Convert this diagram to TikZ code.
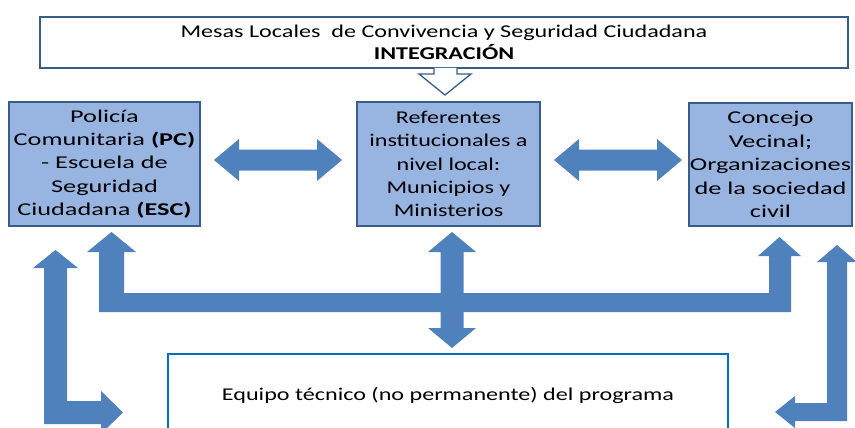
\documentclass[tikz,border=0pt]{standalone}
\usepackage{fontspec}
\setmainfont{Carlito}[FakeStretch=1.34]
\newfontfamily\mywidefont{Carlito}[FakeStretch=1.46]
\definecolor{boxfill}{RGB}{152,180,224}
\definecolor{bdr}{RGB}{56,93,138}
\definecolor{arr}{RGB}{79,129,189}
\definecolor{botbdr}{RGB}{0,112,192}
\newcommand\mydiagfont{\fontsize{18}{23.2}\selectfont}
\newcommand\mywidediagfont{\mywidefont\fontsize{18}{23.4}\selectfont}
\begin{document}
\begin{tikzpicture}[x=1pt,y=-1pt,
  blk/.style={draw=bdr, line width=2pt, fill=boxfill, inner sep=0pt, align=center, font=\mydiagfont},
  wideblk/.style={blk, font=\mywidediagfont},
  barrow/.style={fill=arr, draw=none},
]
\useasboundingbox (0,0) rectangle (855,428);
\clip (0,0) rectangle (855,428);

% top box
\node[draw=bdr, line width=2pt, fill=white, minimum width=808pt, minimum height=51pt,
      inner sep=0pt, align=center, font=\mydiagfont] (top) at (444,42.5)
  {Mesas Locales\ \ de Convivencia y Seguridad Ciudadana\\[-1pt]\textbf{INTEGRACIÓN}};
% hollow down arrow
\draw[draw=bdr, line width=1.3pt, fill=white, line join=miter]
  (434,68) -- (434,74) -- (419,74) -- (445,95) -- (471,74) -- (457,74) -- (457,68);

% three boxes
\node[wideblk, minimum width=191pt, minimum height=124pt] (pc) at (104.5,164)
  {Policía\\Comunitaria \textbf{(PC)}\\- Escuela de\\Seguridad\\Ciudadana \textbf{(ESC)}};
\node[blk, minimum width=183pt, minimum height=124pt] (ref) at (448.5,164)
  {Referentes\\institucionales a\\nivel local:\\Municipios y\\Ministerios};
\node[wideblk, minimum width=163pt, minimum height=123pt] (cv) at (770.5,164.5)
  {Concejo\\Vecinal;\\Organizaciones\\de la sociedad\\civil};

% horizontal double arrows
\fill[barrow] (214,160) -- (239,139) -- (239,149.5) -- (317,149.5) -- (317,139) -- (342,160)
  -- (317,181) -- (317,170.5) -- (239,170.5) -- (239,181) -- cycle;
\fill[barrow] (554,160) -- (579,139) -- (579,149.5) -- (657,149.5) -- (657,139) -- (682,160)
  -- (657,181) -- (657,170.5) -- (579,170.5) -- (579,181) -- cycle;

% U-shaped bar with two up arrows
\fill[barrow] (99,312) -- (99,252) -- (87,252) -- (111.5,232) -- (136,252) -- (124,252)
  -- (124,293) -- (769,293) -- (769,256) -- (758,256) -- (779.5,237) -- (801,256)
  -- (791,256) -- (791,312) -- cycle;
% middle vertical double arrow
\fill[barrow] (452,232) -- (476,252) -- (463.5,252) -- (463.5,328) -- (476,328) -- (452,348)
  -- (428,328) -- (440.5,328) -- (440.5,252) -- (428,252) -- cycle;

% left outer L arrow
\fill[barrow] (44,424) -- (44,268) -- (33,268) -- (55.5,250) -- (78,268) -- (67,268)
  -- (67,401) -- (101,401) -- (101,391) -- (123,412.5) -- (101,434) -- (101,424) -- cycle;
% right outer L arrow
\fill[barrow] (847,421) -- (847,262) -- (857,262) -- (837,245) -- (817,262) -- (827,262)
  -- (827,403) -- (795,403) -- (795,396) -- (775,412) -- (795,428) -- (795,421) -- cycle;

% bottom box
\node[draw=botbdr, line width=2pt, fill=white, minimum width=560pt, minimum height=82pt,
      inner sep=0pt, font=\mydiagfont] (team) at (448,395)
  {Equipo técnico (no permanente) del programa};
\end{tikzpicture}
\end{document}
